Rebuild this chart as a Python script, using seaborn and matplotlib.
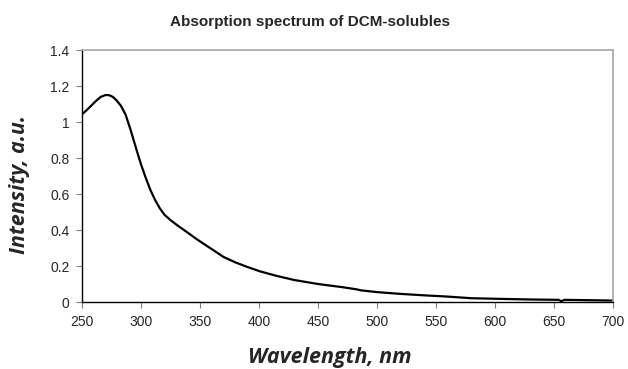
import numpy as np
import pandas as pd
import matplotlib
matplotlib.use("Agg")
import matplotlib.pyplot as plt
import seaborn as sns

# values
wavelength = [250, 254, 258, 262, 266, 270, 273, 276, 279, 283, 287, 291, 296,
              300, 304, 308, 312, 316, 320, 325, 331, 339, 347, 355, 362, 370,
              380, 390, 401, 415, 430, 450, 470, 483, 486, 500, 520, 540, 560,
              580, 600, 630, 654, 656, 659, 680, 700]
intensity = [1.043, 1.066, 1.092, 1.118, 1.140, 1.150, 1.149, 1.140, 1.122,
             1.090, 1.040, 0.960, 0.850, 0.765, 0.690, 0.622, 0.566, 0.520,
             0.484, 0.455, 0.425, 0.388, 0.350, 0.315, 0.285, 0.250, 0.220,
             0.195, 0.170, 0.145, 0.122, 0.100, 0.083, 0.070, 0.065, 0.055,
             0.045, 0.037, 0.030, 0.021, 0.018, 0.014, 0.012, 0.004, 0.012,
             0.010, 0.008]
x_ticks = [250, 300, 350, 400, 450, 500, 550, 600, 650, 700]
y_ticks = [0, 0.2, 0.4, 0.6, 0.8, 1.0, 1.2, 1.4]
y_ticklabels = ['0', '0.2', '0.4', '0.6', '0.8', '1', '1.2', '1.4']

sns.set_style('white')
plt.rcParams['font.family'] = ['Liberation Sans', 'DejaVu Sans']

df = pd.DataFrame({'Wavelength': wavelength, 'Intensity': intensity})

fig = plt.figure(figsize=(6.28, 3.69), dpi=100)
ax = fig.add_axes([82 / 628, 1 - 302 / 369, (613 - 82) / 628, (302 - 50) / 369])

sns.lineplot(data=df, x='Wavelength', y='Intensity', ax=ax, color='black',
             linewidth=1.6, sort=False)

ax.set_xlim(250, 700)
ax.set_ylim(0, 1.4)
ax.set_xticks(x_ticks)
ax.set_yticks(y_ticks)
ax.set_yticklabels(y_ticklabels)
ax.tick_params(axis='both', direction='out', length=4, width=0.8,
               labelsize=10, color='#808080', pad=5, bottom=True, left=True)
ax.set_xlabel('')
ax.set_ylabel('')

for side in ['left', 'bottom']:
    ax.spines[side].set_color('black')
    ax.spines[side].set_linewidth(1.0)
for side in ['top', 'right']:
    ax.spines[side].set_color('#a6a6a6')
    ax.spines[side].set_linewidth(1.2)

fig.text(310 / 628, 1 - 22 / 369, 'Absorption spectrum of DCM-solubles',
         ha='center', va='center', fontsize=11, fontweight='bold')
fig.text(330 / 628, 1 - 357 / 369, 'Wavelength, nm', ha='center', va='center',
         fontsize=15.5, fontweight='bold', fontstyle='italic', family='Open Sans')
fig.text(20 / 628, 1 - 185 / 369, 'Intensity, a.u.', ha='center', va='center',
         rotation=90, fontsize=15.5, fontweight='bold', fontstyle='italic',
         family='Open Sans')

fig.savefig('out.png', dpi=100)
